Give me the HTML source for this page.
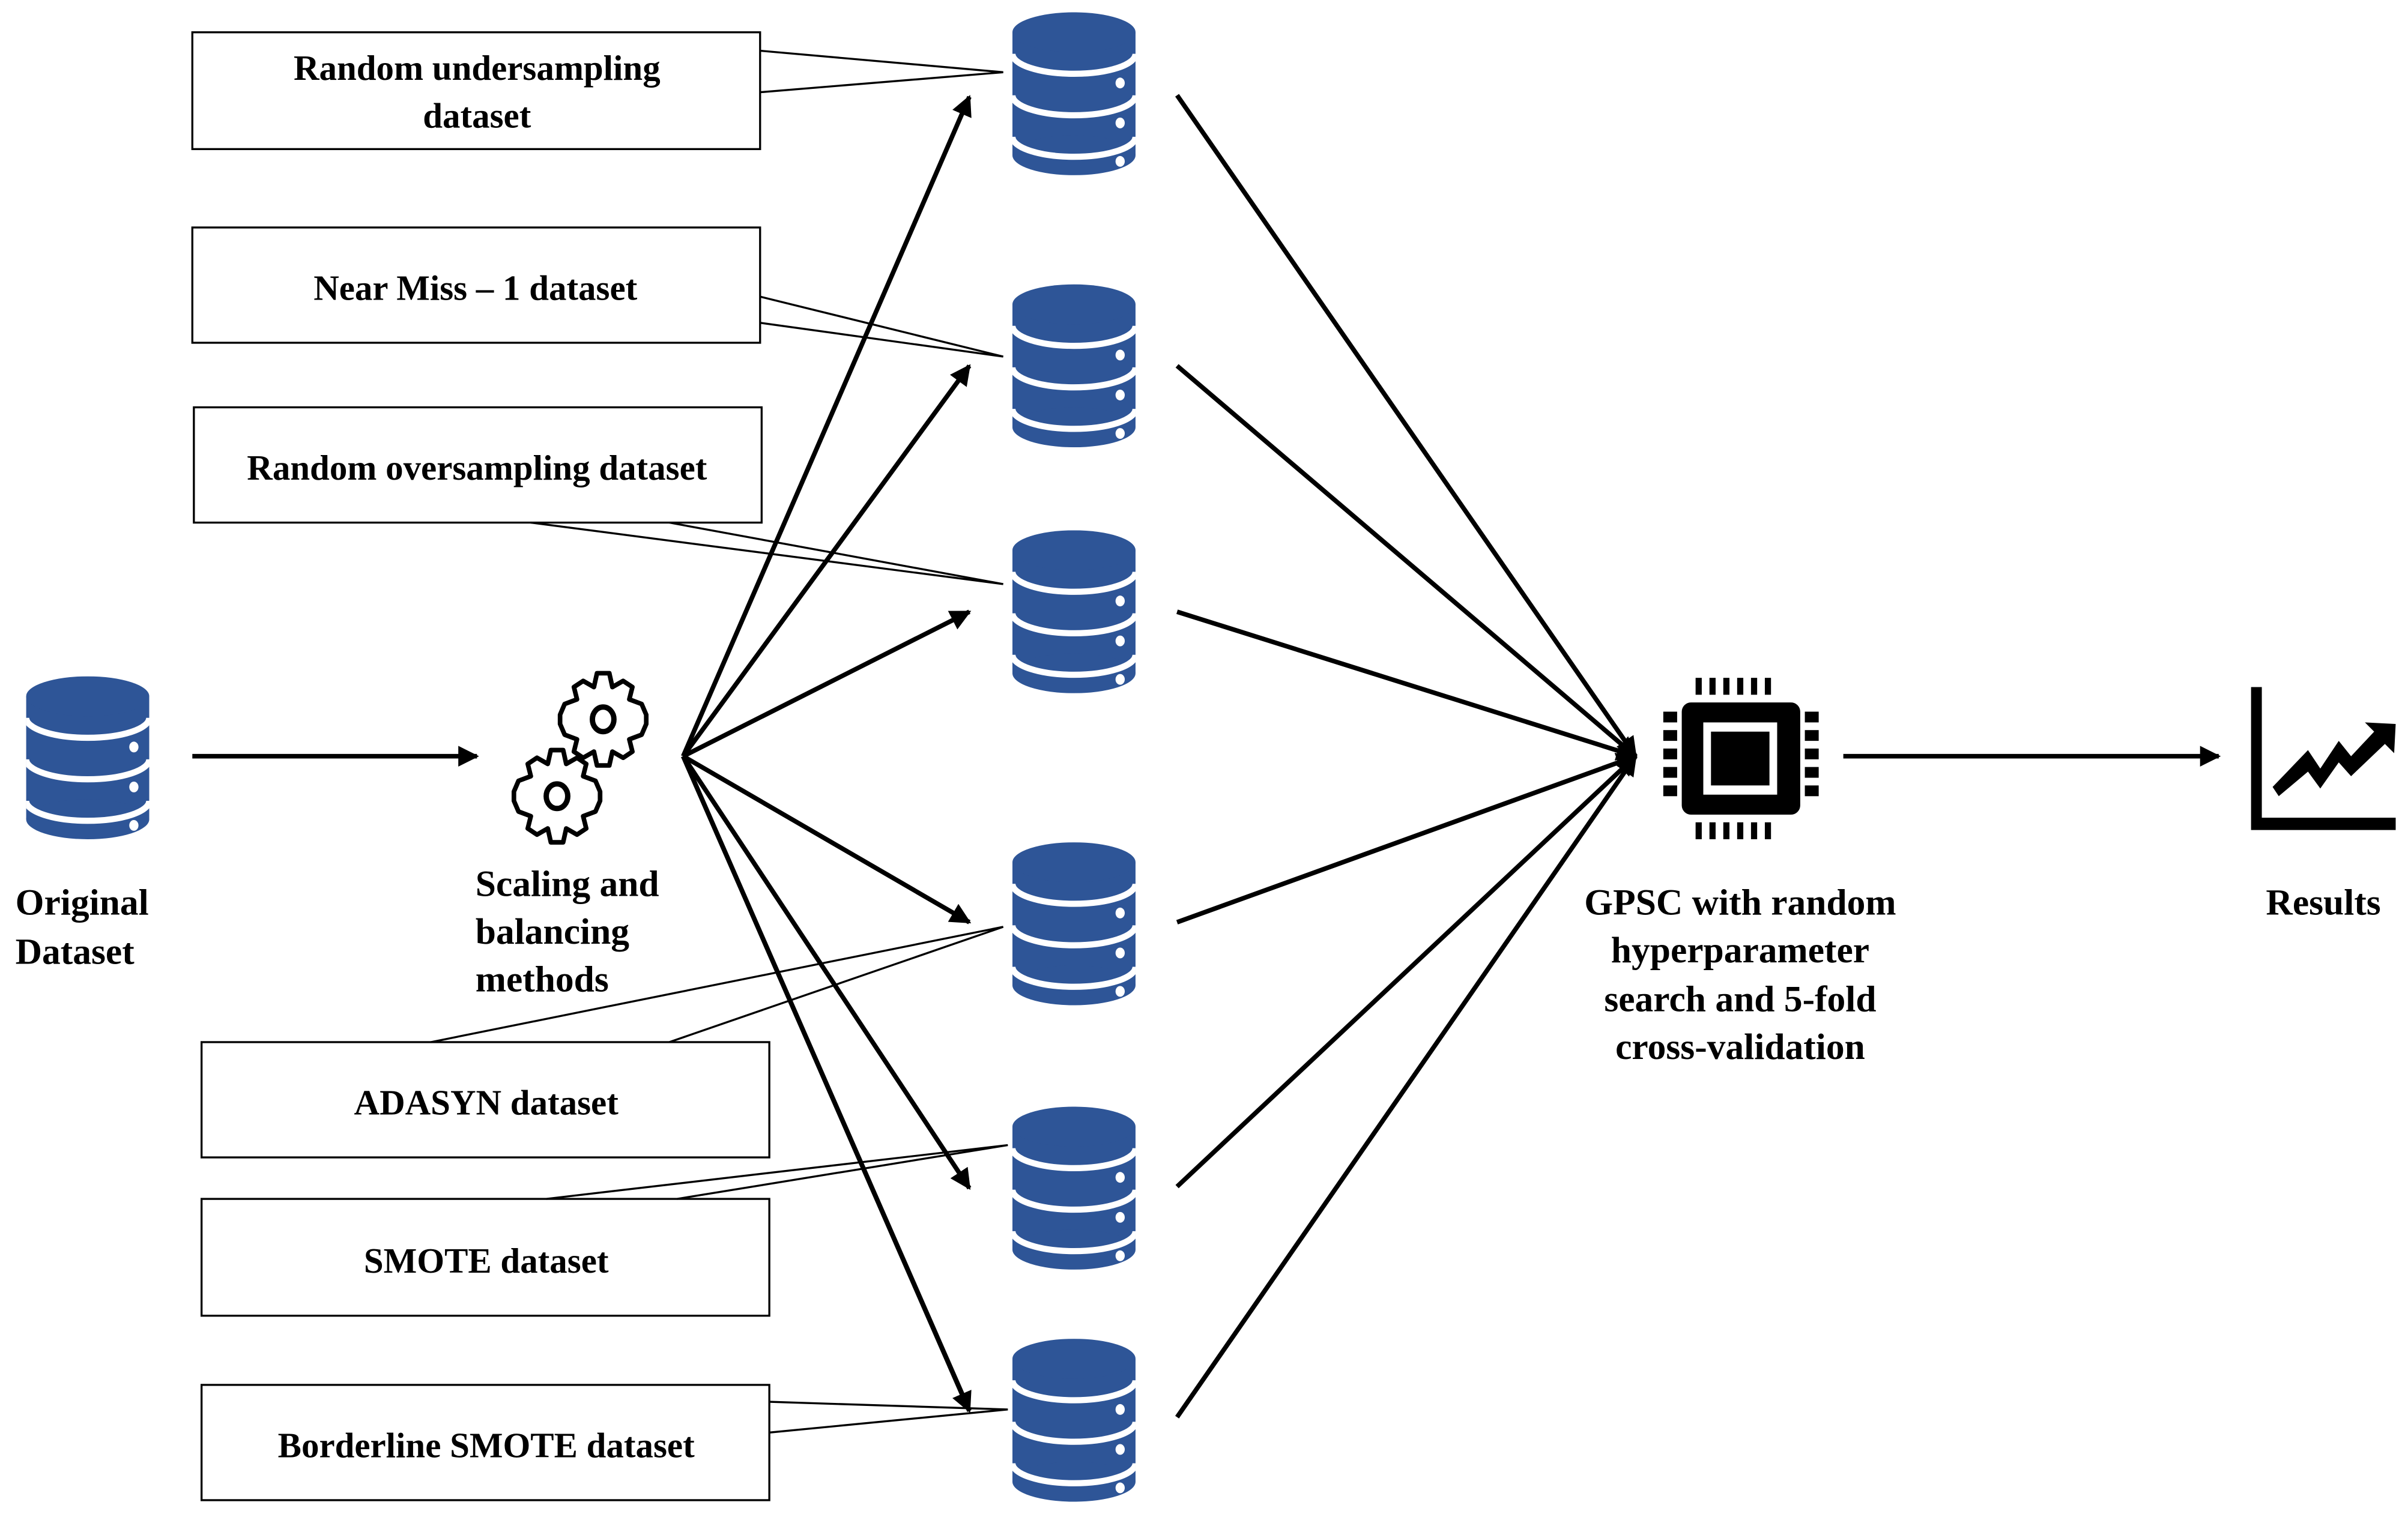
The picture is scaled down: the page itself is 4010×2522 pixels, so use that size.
<!DOCTYPE html>
<html><head><meta charset="utf-8"><style>html,body{margin:0;padding:0;background:#fff}svg{display:block}.t{font-family:"Liberation Serif","Times New Roman",serif;font-weight:bold}</style></head><body>
<svg width="4010" height="2522" viewBox="0 0 1565 985" preserveAspectRatio="none" xmlns="http://www.w3.org/2000/svg">
<defs>
<symbol id="db" viewBox="0 0 80 106" width="80" height="106">
<rect x="0" y="13" width="80" height="80" fill="#2E5597"/>
<ellipse cx="40" cy="13" rx="40" ry="13" fill="#2E5597"/>
<ellipse cx="40" cy="93" rx="40" ry="13" fill="#2E5597"/>
<path d="M0,27 A40,13 0 0 0 80,27" fill="none" stroke="#fff" stroke-width="4"/>
<path d="M0,54 A40,13 0 0 0 80,54" fill="none" stroke="#fff" stroke-width="4"/>
<path d="M0,81 A40,13 0 0 0 80,81" fill="none" stroke="#fff" stroke-width="4"/>
<ellipse cx="70" cy="46" rx="3" ry="3.5" fill="#fff"/>
<ellipse cx="70" cy="72" rx="3" ry="3.5" fill="#fff"/>
<ellipse cx="70" cy="97" rx="3" ry="3.5" fill="#fff"/>
</symbol>
<symbol id="gear" viewBox="-32 -32 64 64" width="64" height="64">
<path d="M-4,-30 L4,-30 L6,-21 L13,-25 L19,-21 L17,-13 L25,-10 L28,-3 L28,3 L25,10 L17,13 L19,21 L13,25 L6,21 L4,30 L-4,30 L-6,21 L-13,25 L-19,21 L-17,13 L-25,10 L-28,3 L-28,-3 L-25,-10 L-17,-13 L-19,-21 L-13,-25 L-6,-21 Z" fill="#fff" stroke="#000" stroke-width="3" stroke-linejoin="round"/>
<ellipse cx="0" cy="0" rx="7" ry="8" fill="none" stroke="#000" stroke-width="3.5"/>
</symbol>
<marker id="ah" viewBox="0 0 10 10" refX="9" refY="5" markerWidth="4.5" markerHeight="4.5" orient="auto"><path d="M0,0 L10,5 L0,10 Z" fill="#000"/></marker>
</defs>

<g fill="#fff" stroke="#000" stroke-width="1.3">
<rect x="125" y="21" width="369" height="76"/>
<rect x="125" y="148" width="369" height="75"/>
<rect x="126" y="265" width="369" height="75"/>
<rect x="131" y="678" width="369" height="75"/>
<rect x="131" y="780" width="369" height="76"/>
<rect x="131" y="901" width="369" height="75"/>
</g>
<g stroke="#000" stroke-width="1.3" fill="none">
<path d="M494,33 L652,47 L494,60"/>
<path d="M494,193 L652,232 L494,210"/>
<path d="M345,340 L652,380 L435,340"/>
<path d="M280,678 L652,603 L435,678"/>
<path d="M355,780 L655,745 L440,780"/>
<path d="M500,912 L655,917 L500,932"/>
</g>

<g class="t" font-size="23" text-anchor="middle" fill="#000">
<text x="310" y="52">Random undersampling</text>
<text x="310" y="83">dataset</text>
<text x="309" y="195">Near Miss – 1 dataset</text>
<text x="310" y="312">Random oversampling dataset</text>
<text x="316" y="725">ADASYN dataset</text>
<text x="316" y="828">SMOTE dataset</text>
<text x="316" y="948">Borderline SMOTE dataset</text>
</g>
<g class="t" font-size="24" fill="#000">
<text x="10" y="595">Original</text>
<text x="10" y="627">Dataset</text>
<text x="309" y="583">Scaling and</text>
<text x="309" y="614">balancing</text>
<text x="309" y="645">methods</text>
<text x="1510" y="595" text-anchor="middle">Results</text>
<g text-anchor="middle">
<text x="1131" y="595">GPSC with random</text>
<text x="1131" y="626">hyperparameter</text>
<text x="1131" y="658">search and 5-fold</text>
<text x="1131" y="689">cross-validation</text>
</g>
</g>

<use href="#db" x="17" y="440" width="80" height="106"/>
<use href="#db" x="658" y="8" width="80" height="106"/>
<use href="#db" x="658" y="185" width="80" height="106"/>
<use href="#db" x="658" y="345" width="80" height="106"/>
<use href="#db" x="658" y="548" width="80" height="106"/>
<use href="#db" x="658" y="720" width="80" height="106"/>
<use href="#db" x="658" y="871" width="80" height="106"/>

<use href="#gear" x="360" y="436" width="64" height="64"/>
<use href="#gear" x="330" y="486" width="64" height="64"/>

<g stroke="#000" stroke-width="3" fill="none" marker-end="url(#ah)">
<line x1="125" y1="492" x2="310" y2="492"/>
<line x1="444" y1="492" x2="630" y2="63"/>
<line x1="444" y1="492" x2="630" y2="238"/>
<line x1="444" y1="492" x2="630" y2="398"/>
<line x1="444" y1="492" x2="630" y2="600"/>
<line x1="444" y1="492" x2="630" y2="773"/>
<line x1="444" y1="492" x2="630" y2="918"/>
<line x1="765" y1="62" x2="1063" y2="492"/>
<line x1="765" y1="238" x2="1063" y2="492"/>
<line x1="765" y1="398" x2="1063" y2="492"/>
<line x1="765" y1="600" x2="1063" y2="492"/>
<line x1="765" y1="772" x2="1063" y2="492"/>
<line x1="765" y1="922" x2="1063" y2="492"/>
<line x1="1198" y1="492" x2="1442" y2="492"/>
</g>
<line x1="444" y1="492" x2="628" y2="913" stroke="#000" stroke-width="3"/>

<rect x="1093" y="457" width="77" height="73" rx="6" fill="#000"/>
<rect x="1107" y="470" width="48" height="47" fill="#fff"/>
<rect x="1112" y="476" width="38" height="35" fill="#000"/>
<g fill="#000">
<rect x="1102" y="441" width="4" height="11"/><rect x="1111" y="441" width="4" height="11"/><rect x="1120" y="441" width="4" height="11"/><rect x="1129" y="441" width="4" height="11"/><rect x="1138" y="441" width="4" height="11"/><rect x="1147" y="441" width="4" height="11"/>
<rect x="1102" y="535" width="4" height="11"/><rect x="1111" y="535" width="4" height="11"/><rect x="1120" y="535" width="4" height="11"/><rect x="1129" y="535" width="4" height="11"/><rect x="1138" y="535" width="4" height="11"/><rect x="1147" y="535" width="4" height="11"/>
<rect x="1081" y="463" width="9" height="7"/><rect x="1081" y="475" width="9" height="7"/><rect x="1081" y="487" width="9" height="7"/><rect x="1081" y="499" width="9" height="7"/><rect x="1081" y="511" width="9" height="7"/>
<rect x="1173" y="463" width="9" height="7"/><rect x="1173" y="475" width="9" height="7"/><rect x="1173" y="487" width="9" height="7"/><rect x="1173" y="499" width="9" height="7"/><rect x="1173" y="511" width="9" height="7"/>
</g>

<path d="M1463,447 L1470,447 L1470,532 L1557,532 L1557,540 L1463,540 Z" fill="#000"/>
<path d="M1477,512 L1500,488 L1508,500 L1520,482 L1528,492 L1543,476 L1537,470 L1557,471 L1556,490 L1550,484 L1528,505 L1520,496 L1508,513 L1500,502 L1481,518 Z" fill="#000"/>
</svg>
</body></html>
